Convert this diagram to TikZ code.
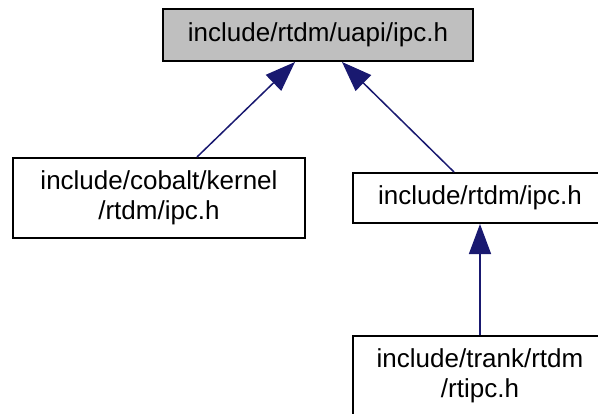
\documentclass[tikz,border=0pt]{standalone}
\usepackage{fontspec}
\setmainfont{Liberation Sans}
\usetikzlibrary{arrows.meta}
\definecolor{edgeblue}{HTML}{191970}
\definecolor{boxgray}{HTML}{BFBFBF}
\begin{document}
\begin{tikzpicture}[x=1pt,y=1pt,
  filebox/.style={draw=black, line width=2pt, rectangle, inner sep=0pt, align=center,
    font=\fontsize{26}{30}\selectfont},
  dep/.style={draw=edgeblue, line width=1.5pt,
    -{Triangle[length=30pt,width=22pt,fill=edgeblue]}}]
\useasboundingbox (0,0) rectangle (598,-413);
\clip (0,0) rectangle (598,-413);
\node[filebox, fill=boxgray, minimum width=310pt, minimum height=52pt] (top) at (318,-35) {include/rtdm/uapi/ipc.h};
\node[filebox, minimum width=292pt, minimum height=80pt] (left) at (159,-198) {include/cobalt/kernel\\/rtdm/ipc.h};
\node[filebox, minimum width=254pt, minimum height=50pt] (right) at (480,-198) {include/rtdm/ipc.h};
\node[filebox, minimum width=254pt, minimum height=80pt] (bottom) at (480,-376) {include/trank/rtdm\\/rtipc.h};
\draw[dep] ([xshift=185pt]left.north west) -- ([xshift=133pt]top.south west);
\draw[dep] ([xshift=102pt]right.north west) -- ([xshift=180pt]top.south west);
\draw[dep] ([xshift=128pt]bottom.north west) -- ([xshift=128pt]right.south west);
\end{tikzpicture}
\end{document}
